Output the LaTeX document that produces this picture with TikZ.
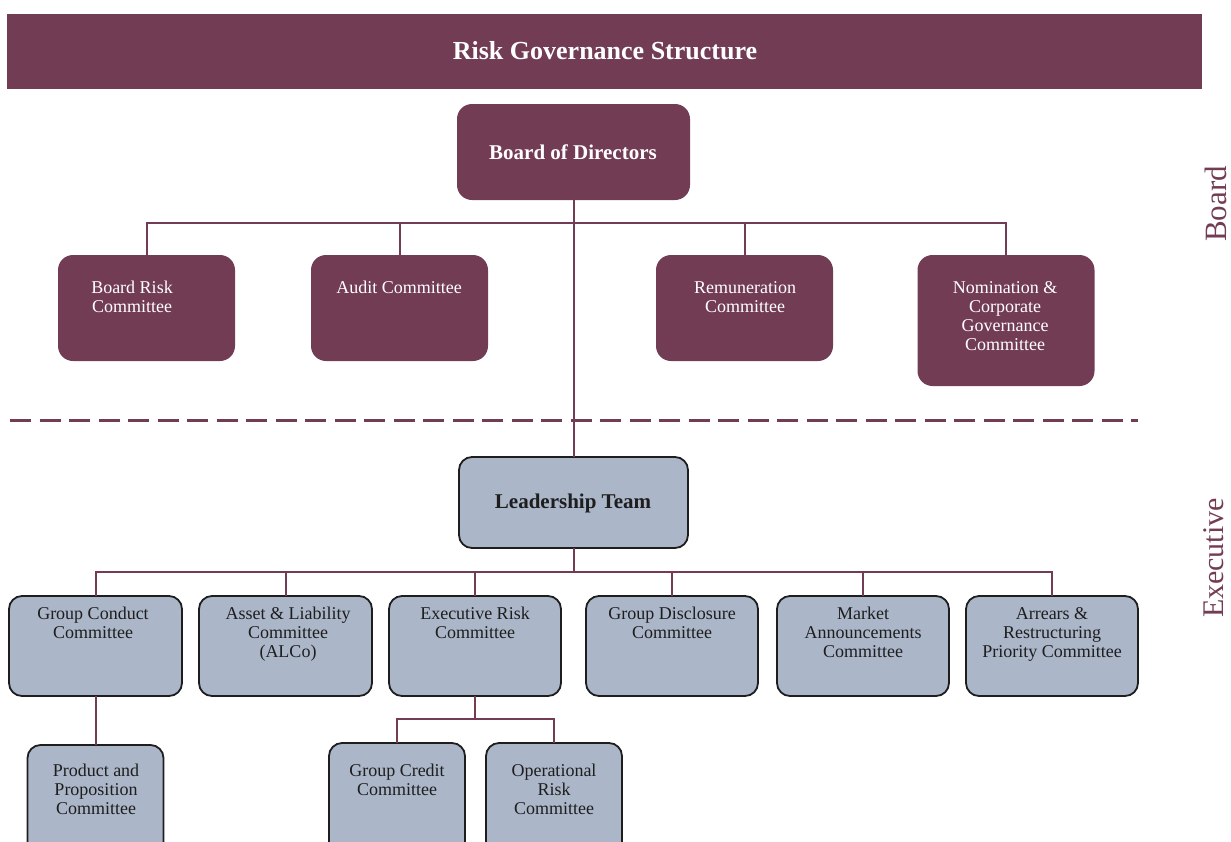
\documentclass[tikz,border=0pt]{standalone}
\usepackage{fontspec}
\setmainfont{Liberation Serif}
\definecolor{maroon}{RGB}{114,60,85}
\definecolor{exfill}{RGB}{171,182,200}
\definecolor{exline}{RGB}{30,30,30}
\begin{document}
\begin{tikzpicture}[x=1pt,y=-1pt,
  bbox/.style={draw=none,fill=maroon,rounded corners=15pt,inner sep=0pt,outer sep=0pt},
  ebox/.style={draw=exline,line width=1.8pt,fill=exfill,rounded corners=13pt,inner sep=0pt,outer sep=0pt},
  btxt/.style={text=white,align=center,inner sep=0pt,anchor=north,font=\fontsize{18}{19}\selectfont},
  etxt/.style={text=exline,align=center,inner sep=0pt,anchor=north,font=\fontsize{18}{19}\selectfont},
  conn/.style={draw=maroon,line width=2pt},
  side/.style={text=maroon,rotate=90,inner sep=0pt}
]
\useasboundingbox (0,0) rectangle (1231,841);
\clip (0,0) rectangle (1231,841);

% title bar
\node[fill=maroon,inner sep=0pt,minimum width=1195pt,minimum height=75pt] (title) at (604.5,51.5) {};
\node[text=white,font=\fontsize{26}{28}\selectfont\bfseries,inner sep=0pt] (titletxt) at (605,51) {Risk Governance Structure};

% board of directors
\node[bbox,minimum width=233pt,minimum height=96pt] (bod) at (573.5,152) {};
\node[text=white,font=\fontsize{21}{23}\selectfont\bfseries,inner sep=0pt] (bodtxt) at (573,152) {Board of Directors};

% board committees
\node[bbox,minimum width=177pt,minimum height=106pt] (brc) at (146.5,308) {};
\node[bbox,minimum width=177pt,minimum height=106pt] (ac) at (399.5,308) {};
\node[bbox,minimum width=177pt,minimum height=106pt] (rc) at (744.5,308) {};
\node[bbox,minimum width=177pt,minimum height=131pt] (ncg) at (1006,320.5) {};
\node[btxt] (brctxt) at (132,281) {Board Risk\\Committee};
\node[btxt] (actxt) at (399,281) {Audit Committee};
\node[btxt] (rctxt) at (745,281) {Remuneration\\Committee};
\node[btxt] (ncgtxt) at (1005,281) {Nomination \&\\Corporate\\Governance\\Committee};

% separator
\draw[maroon,line width=3pt,dash pattern=on 21pt off 8.5pt] (10,420) -- (1138,420);

% leadership team
\node[ebox,minimum width=229pt,minimum height=91pt] (lt) at (573.5,502.5) {};
\node[text=exline,font=\fontsize{21}{23}\selectfont\bfseries,inner sep=0pt] (lttxt) at (573,503) {Leadership Team};

% executive committees
\node[ebox,minimum width=173pt,minimum height=100pt] (gcc) at (95.5,646) {};
\node[ebox,minimum width=173pt,minimum height=100pt] (alco) at (285.5,646) {};
\node[ebox,minimum width=172pt,minimum height=100pt] (erc) at (475,646) {};
\node[ebox,minimum width=172pt,minimum height=100pt] (gdc) at (672,646) {};
\node[ebox,minimum width=172pt,minimum height=100pt] (mac) at (863,646) {};
\node[ebox,minimum width=172pt,minimum height=100pt] (arp) at (1052,646) {};
\node[etxt] (gcctxt) at (93,607) {Group Conduct\\Committee};
\node[etxt] (alcotxt) at (288,607) {Asset \& Liability\\Committee\\(ALCo)};
\node[etxt] (erctxt) at (475,607) {Executive Risk\\Committee};
\node[etxt] (gdctxt) at (672,607) {Group Disclosure\\Committee};
\node[etxt] (mactxt) at (863,607) {Market\\Announcements\\Committee};
\node[etxt] (arptxt) at (1052,607) {Arrears \&\\Restructuring\\Priority Committee};

% sub committees
\node[ebox,minimum width=136pt,minimum height=130pt] (ppc) at (95.5,810) {};
\node[ebox,minimum width=136pt,minimum height=130pt] (gcr) at (397,808) {};
\node[ebox,minimum width=136pt,minimum height=130pt] (orc) at (554,808) {};
\node[etxt] (ppctxt) at (96,764) {Product and\\Proposition\\Committee};
\node[etxt] (gcrtxt) at (397,764) {Group Credit\\Committee};
\node[etxt] (orctxt) at (554,764) {Operational\\Risk\\Committee};

% junctions
\coordinate (bj) at (573.5,223);
\coordinate (ej) at (573.5,572);
\coordinate (erj) at (475,719);

% connectors
\draw[conn] (bod.south) -- (lt.north);
\draw[conn] (brc.north) |- (bj) -| (ncg.north);
\draw[conn] (ac.north) |- (bj);
\draw[conn] (rc.north) |- (bj);
\draw[conn] (lt.south) -- (ej);
\draw[conn] (gcc.north) |- (ej) -| (arp.north);
\draw[conn] (alco.north) |- (ej);
\draw[conn] (erc.north) |- (ej);
\draw[conn] (gdc.north) |- (ej);
\draw[conn] (mac.north) |- (ej);
\draw[conn] (gcc.south) -- (ppc.north);
\draw[conn] (erc.south) -- (erj);
\draw[conn] (gcr.north) |- (erj) -| (orc.north);

% side labels
\node[side,font=\fontsize{31}{33}\selectfont] (boardlbl) at (1216,204) {Board};
\node[side,font=\fontsize{30}{32}\selectfont] (execlbl) at (1214,558) {Executive};
\end{tikzpicture}
\end{document}
